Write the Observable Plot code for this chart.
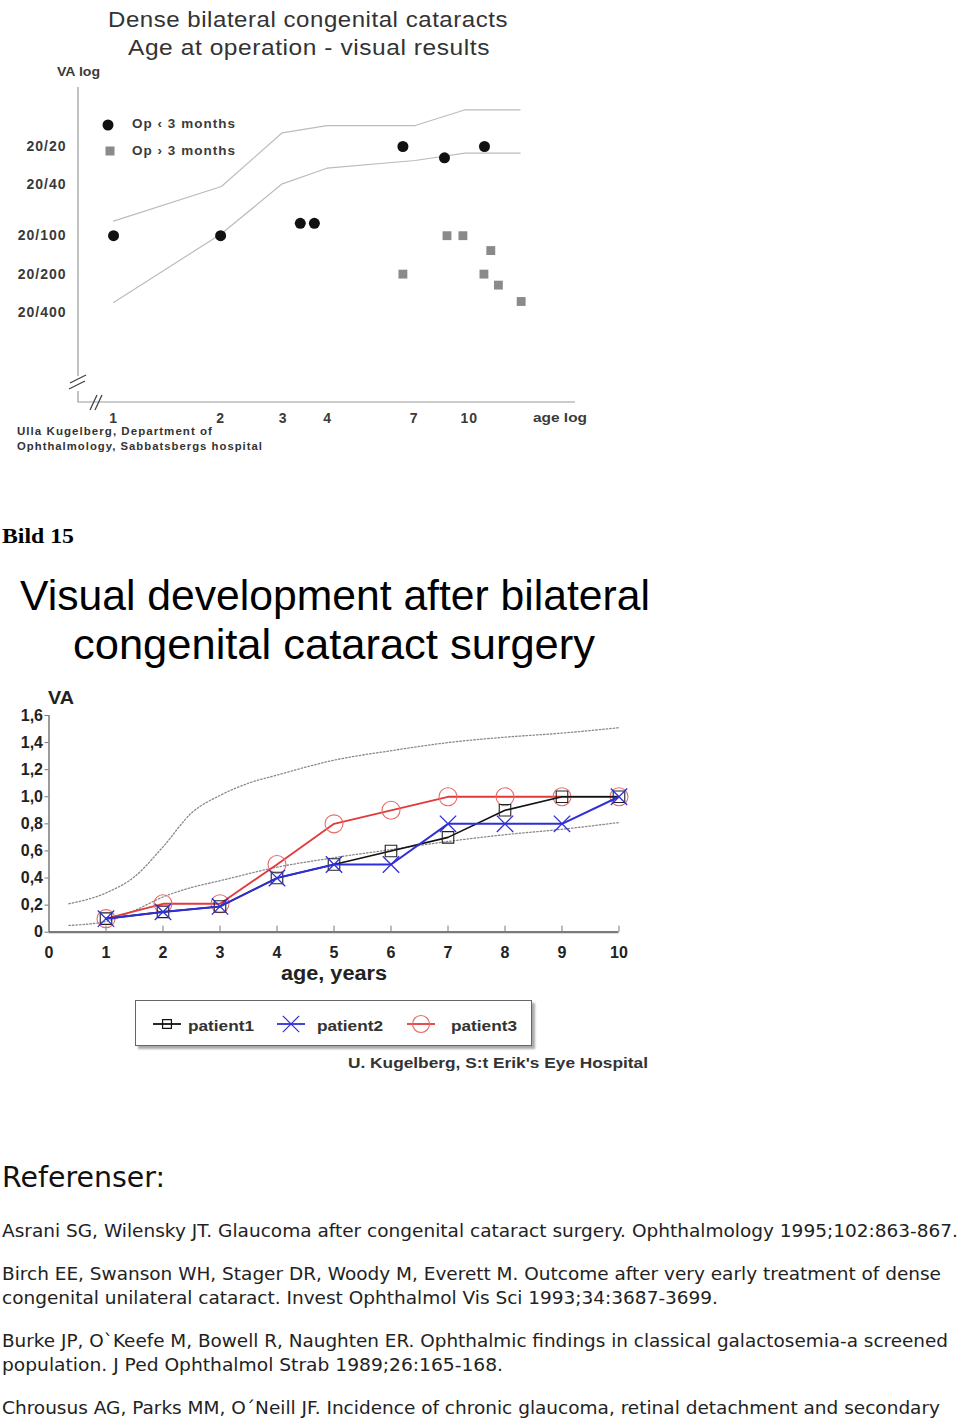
<!DOCTYPE html>
<html><head><meta charset="utf-8">
<script src="https://cdn.jsdelivr.net/npm/d3@7"></script>
<script src="https://cdn.jsdelivr.net/npm/@observablehq/plot@0.6"></script>
<style>
body{margin:0;background:#fff;}
#page{position:relative;width:960px;height:1423px;overflow:hidden;background:#fff;}
.t{position:absolute;white-space:nowrap;transform-origin:0 50%;}
.box{position:absolute;}
</style></head><body><div id="page"></div>
<script>
// ---------- Chart 1: Dense bilateral congenital cataracts (log-log) ----------
const earlyAge = [1, 2, 3.35, 3.67, 6.51, 8.52, 11.04];
const earlyVA = [0.2, 0.2, 0.25, 0.25, 1.0, 0.815, 1.0];
const lateAge = [6.51, 8.66, 9.6, 11.5, 11.0, 12.08, 14.0];
const lateVA = [0.1, 0.2, 0.2, 0.153, 0.1, 0.082, 0.061];
const bandAge = [1, 2.01, 2.98, 3.98, 7.05, 9.74, 13.9];
const bandUpperVA = [0.26, 0.486, 1.28, 1.46, 1.46, 1.94, 1.94];
const bandLowerVA = [0.06, 0.207, 0.51, 0.676, 0.777, 0.886, 0.886];
const vaLogTicks = [1, 0.5, 0.2, 0.1, 0.05];
const vaLogTickLabels = ["20/20", "20/40", "20/100", "20/200", "20/400"];
const ageLogTicks = [1, 2, 3, 4, 7, 10];
const groupNames = ["Op \u2039 3 months", "Op \u203A 3 months"];

// ---------- Chart 2: Visual development after bilateral surgery ----------
const years = [1, 2, 3, 4, 5, 6, 7, 8, 9, 10];
const patient1 = [0.1, 0.15, 0.19, 0.4, 0.5, 0.6, 0.7, 0.9, 1.0, 1.0];
const patient2 = [0.1, 0.15, 0.19, 0.4, 0.5, 0.5, 0.8, 0.8, 0.8, 1.0];
const patient3 = [0.1, 0.21, 0.21, 0.5, 0.8, 0.9, 1.0, 1.0, 1.0, 1.0];
const seriesNames = ["patient1", "patient2", "patient3"];
const seriesColors = ["#111111", "#2f2fd8", "#e23a3a"];
const normUpperAge = [0.35, 1, 1.5, 2, 2.5, 3, 3.5, 4, 5, 6, 7, 8, 9, 10];
const normUpperVA = [0.21, 0.29, 0.41, 0.63, 0.88, 1.01, 1.1, 1.16, 1.27, 1.34, 1.4, 1.44, 1.47, 1.51];
const normLowerAge = [0.35, 1, 1.5, 2, 2.5, 3, 4, 5, 6, 7, 8, 9, 10];
const normLowerVA = [0.05, 0.08, 0.16, 0.26, 0.33, 0.38, 0.48, 0.55, 0.61, 0.67, 0.72, 0.76, 0.81];
const vaTicks = [0, 0.2, 0.4, 0.6, 0.8, 1.0, 1.2, 1.4, 1.6];
const yearTicks = [0, 1, 2, 3, 4, 5, 6, 7, 8, 9, 10];

const references = [
  "Asrani SG, Wilensky JT. Glaucoma after congenital cataract surgery. Ophthalmology 1995;102:863-867.",
  "Birch EE, Swanson WH, Stager DR, Woody M, Everett M. Outcome after very early treatment of dense",
  "congenital unilateral cataract. Invest Ophthalmol Vis Sci 1993;34:3687-3699.",
  "Burke JP, O`Keefe M, Bowell R, Naughten ER. Ophthalmic findings in classical galactosemia-a screened",
  "population. J Ped Ophthalmol Strab 1989;26:165-168.",
  "Chrousus AG, Parks MM, O\u00B4Neill JF. Incidence of chronic glaucoma, retinal detachment and secondary"
];

// ---------- helpers ----------
const page = document.getElementById("page");
const SANS = "'Liberation Sans', Arial, Helvetica, sans-serif";
function txt(s, o) {
  const el = document.createElement("div");
  el.className = "t";
  el.textContent = s;
  Object.assign(el.style, {
    left: o.x + "px", top: (o.y - o.size * 0.52) + "px",
    fontSize: o.size + "px", lineHeight: o.size + "px",
    fontFamily: o.family || SANS, fontWeight: o.weight || "normal",
    color: o.color || "#000", letterSpacing: (o.ls || 0) + "px"
  });
  page.appendChild(el);
  if (o.w) {
    const w = el.getBoundingClientRect().width;
    el.style.transform = `scaleX(${o.w / w})`;
  }
  return el;
}
function holder(x, y, w, h) {
  const d = document.createElement("div");
  d.className = "box";
  Object.assign(d.style, {left: x + "px", top: y + "px", width: w + "px", height: h + "px"});
  page.appendChild(d);
  return d;
}

// ---------- Chart 1 ----------
const early = earlyAge.map((a, i) => ({age: a, va: earlyVA[i]}));
const late = lateAge.map((a, i) => ({age: a, va: lateVA[i]}));
const upper = bandAge.map((a, i) => ({age: a, va: bandUpperVA[i]}));
const lower = bandAge.map((a, i) => ({age: a, va: bandLowerVA[i]}));

function frameWithBreaks(index, scales, values, dim) {
  const g = d3.create("svg:g");
  const x0 = dim.marginLeft, x1 = dim.width - dim.marginRight;
  const y0 = dim.marginTop, y1 = dim.height - dim.marginBottom;
  g.append("path").attr("d", `M${x0},${y0}V${y1 - 26}M${x0},${y1 - 11}V${y1}H${x1}`)
    .attr("fill", "none").attr("stroke", "#9a9a9a").attr("stroke-width", 1.2);
  const br = g.append("g").attr("stroke", "#444").attr("stroke-width", 1.3).attr("fill", "none");
  br.append("path").attr("d", `M${x0 - 8},${y1 - 19}L${x0 + 8},${y1 - 27}M${x0 - 9},${y1 - 13}L${x0 + 7},${y1 - 21}`);
  br.append("path").attr("d", `M${x0 + 12},${y1 + 8}L${x0 + 19},${y1 - 7}M${x0 + 17},${y1 + 8}L${x0 + 24},${y1 - 7}`);
  return g.node();
}

const plot1 = Plot.plot({
  width: 600, height: 460,
  marginLeft: 78, marginRight: 25, marginTop: 87, marginBottom: 58,
  style: {fontFamily: SANS, fontSize: "14px", fontWeight: "bold", color: "#3a3a3a", letterSpacing: "1px",
          background: "transparent", maxWidth: "none", overflow: "visible"},
  x: {type: "log", domain: [0.797, 19.9], axis: null, label: null},
  y: {type: "log", domain: [0.00986, 2.9], axis: null, label: null},
  marks: [
    frameWithBreaks,
    Plot.text(ageLogTicks, {x: d => d, text: d => String(d), frameAnchor: "bottom", dy: 20, fill: "#3a3a3a"}),
    Plot.text(vaLogTicks, {y: d => d, text: (d, i) => vaLogTickLabels[i], frameAnchor: "left", dx: -12, textAnchor: "end", fill: "#3a3a3a"}),
    Plot.line(upper, {x: "age", y: "va", stroke: "#bcbcbc", strokeWidth: 1.2}),
    Plot.line(lower, {x: "age", y: "va", stroke: "#bcbcbc", strokeWidth: 1.2}),
    Plot.dot(late, {x: "age", y: "va", symbol: "square", r: 5, fill: "#8a8a8a", stroke: "none"}),
    Plot.dot(early, {x: "age", y: "va", r: 5.5, fill: "#111", stroke: "none"})
  ]
});
holder(0, 0, 600, 460).appendChild(plot1);

txt("Dense bilateral congenital cataracts", {x: 108, y: 20.5, w: 400, size: 22, color: "#333", ls: 0.5});
txt("Age at operation - visual results", {x: 128, y: 48, w: 362, size: 22, color: "#333", ls: 0.5});
txt("VA log", {x: 57, y: 72, w: 43, size: 12, weight: "bold", color: "#3a3a3a"});
txt(groupNames[0], {x: 132, y: 124, w: 104, size: 13, weight: "bold", color: "#3a3a3a", ls: 1});
txt(groupNames[1], {x: 132, y: 151, w: 104, size: 13, weight: "bold", color: "#3a3a3a", ls: 1});
txt("age log", {x: 533, y: 418, w: 54, size: 13, weight: "bold", color: "#3a3a3a"});
txt("Ulla Kugelberg, Department of", {x: 17, y: 432, w: 196, size: 11, weight: "bold", color: "#333", ls: 1});
txt("Ophthalmology, Sabbatsbergs hospital", {x: 17, y: 447, w: 246, size: 11, weight: "bold", color: "#333", ls: 1});
// legend symbols of chart 1
{
  const s = d3.create("svg").attr("width", 30).attr("height", 50)
    .style("position", "absolute").style("left", "94px").style("top", "112px");
  s.append("circle").attr("cx", 14).attr("cy", 13).attr("r", 5.5).attr("fill", "#111");
  s.append("rect").attr("x", 11.5).attr("y", 34.5).attr("width", 9).attr("height", 9).attr("fill", "#8a8a8a");
  page.appendChild(s.node());
}

txt("Bild 15", {x: 2, y: 536, w: 72, size: 22, weight: "bold", family: "'Liberation Serif', 'Times New Roman', serif", color: "#000"});

// ---------- Chart 2 ----------
const p1 = years.map((x, i) => ({x, y: patient1[i]}));
const p2 = years.map((x, i) => ({x, y: patient2[i]}));
const p3 = years.map((x, i) => ({x, y: patient3[i]}));
const nu = normUpperAge.map((x, i) => ({x, y: normUpperVA[i]}));
const nl = normLowerAge.map((x, i) => ({x, y: normLowerVA[i]}));
const fmtVA = d => d === 0 ? "0" : d.toFixed(1).replace(".", ",");

const plot2 = Plot.plot({
  width: 680, height: 310,
  marginLeft: 48.5, marginRight: 61.5, marginTop: 35, marginBottom: 58.3,
  style: {fontFamily: SANS, fontSize: "16px", fontWeight: "bold", color: "#222",
          background: "transparent", maxWidth: "none", overflow: "visible"},
  x: {domain: [0, 10], label: null},
  y: {domain: [0, 1.6], label: null},
  marks: [
    Plot.axisX(yearTicks, {tickSize: 0, tickPadding: 14, tickFormat: d => String(d), label: null}),
    Plot.axisY(vaTicks, {tickSize: 4, tickPadding: 2, tickFormat: fmtVA, label: null, stroke: "#777"}),
    Plot.ruleY([0], {stroke: "#7a7a7a", strokeWidth: 2.2}),
    Plot.ruleX([0], {y1: 0, y2: 1.6, stroke: "#7a7a7a", strokeWidth: 1.5}),
    Plot.ruleX(years, {y1: 0, y2: 0.045, stroke: "#7a7a7a", strokeWidth: 1}),
    Plot.line(nu, {x: "x", y: "y", curve: "monotone-x", stroke: "#8a8a8a", strokeWidth: 1.3, strokeDasharray: "1.5,2"}),
    Plot.line(nl, {x: "x", y: "y", curve: "monotone-x", stroke: "#8a8a8a", strokeWidth: 1.3, strokeDasharray: "1.5,2"}),
    Plot.line(p3, {x: "x", y: "y", stroke: seriesColors[2], strokeWidth: 1.8}),
    Plot.dot(p3, {x: "x", y: "y", r: 9, stroke: "#e86a6a", strokeWidth: 1.1, fill: "none"}),
    Plot.line(p1, {x: "x", y: "y", stroke: seriesColors[0], strokeWidth: 1.6}),
    Plot.dot(p1, {x: "x", y: "y", symbol: "square", r: 6.5, stroke: "#222", strokeWidth: 1.1, fill: "none"}),
    Plot.line(p2, {x: "x", y: "y", stroke: seriesColors[1], strokeWidth: 2}),
    Plot.dot(p2, {x: "x", y: "y", symbol: "times", r: 7.5, stroke: seriesColors[1], strokeWidth: 1.3, fill: "none"})
  ]
});
holder(0, 680, 680, 310).appendChild(plot2);

txt("Visual development after bilateral", {x: 20, y: 597, w: 630, size: 42, color: "#000"});
txt("congenital cataract surgery", {x: 73, y: 646, w: 522, size: 42, color: "#000"});
txt("VA", {x: 48, y: 698, w: 26, size: 19, weight: "bold", color: "#222"});
txt("age, years", {x: 281, y: 973, w: 106, size: 20, weight: "bold", color: "#222"});

// legend of chart 2
{
  const box = holder(135, 1000, 397, 46);
  Object.assign(box.style, {border: "1px solid #666", boxShadow: "3px 3px 2px #aaa", boxSizing: "border-box", background: "#fff"});
  const s = d3.create("svg").attr("width", 400).attr("height", 46)
    .style("position", "absolute").style("left", "135px").style("top", "1000px");
  const lx = [18, 142, 272];
  seriesNames.forEach((name, i) => {
    const cx = lx[i] + 14;
    s.append("line").attr("x1", lx[i]).attr("x2", lx[i] + 28).attr("y1", 24).attr("y2", 24)
      .attr("stroke", seriesColors[i]).attr("stroke-width", 1.8);
    const sym = [d3.symbolSquare, d3.symbolTimes, d3.symbolCircle][i];
    const r = [5, 7.5, 8.5][i];
    s.append("path").attr("transform", `translate(${cx},24)`)
      .attr("d", d3.symbol(sym, Math.PI * r * r)())
      .attr("fill", "none").attr("stroke", i === 2 ? "#e86a6a" : seriesColors[i]).attr("stroke-width", 1.2);
  });
  page.appendChild(s.node());
  const tx = [188, 317, 451];
  seriesNames.forEach((name, i) => txt(name, {x: tx[i], y: 1026, w: 66, size: 15, weight: "bold", color: "#333"}));
}
txt("U. Kugelberg, S:t Erik's Eye Hospital", {x: 348, y: 1063, w: 300, size: 15, weight: "bold", color: "#333"});

// ---------- References ----------
const REFF = "'DejaVu Sans', Verdana, sans-serif";
txt("Referenser:", {x: 2, y: 1178, w: 163, size: 29, family: REFF, color: "#111"});
const refY = [1232, 1275, 1299, 1342, 1366, 1409];
const refW = [956, 939, 716, 946, 501, 938];
references.forEach((r, i) => txt(r, {x: 2, y: refY[i], w: refW[i], size: 17, family: REFF, color: "#222"}));
</script></body></html>
